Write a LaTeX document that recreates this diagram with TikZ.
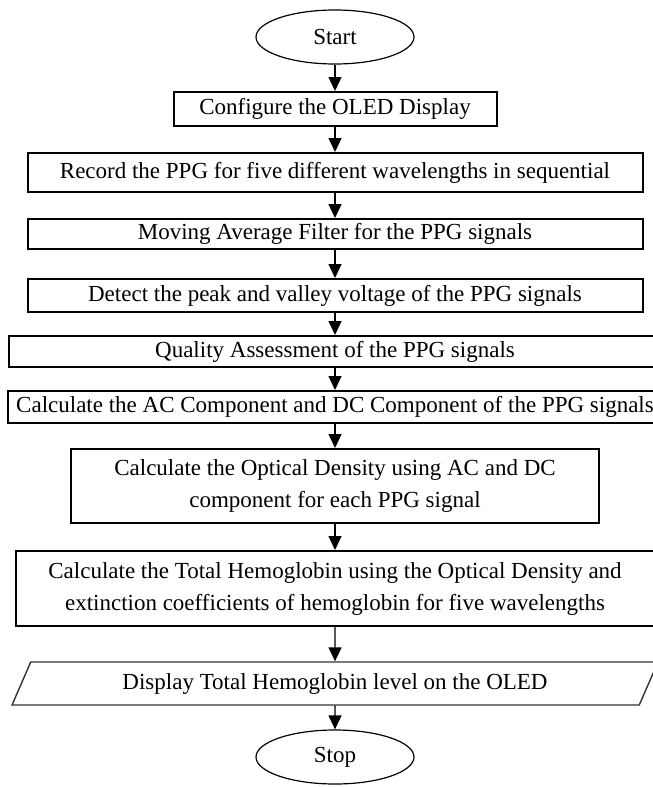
\documentclass[tikz,border=0pt]{standalone}
\usepackage{fontspec}
\setmainfont{Liberation Serif}
\usetikzlibrary{shapes.geometric,arrows.meta}

\begin{document}
\begin{tikzpicture}[
    x=0.5pt,
    y=-0.5pt,
    font=\fontsize{11.5}{16}\selectfont,
    box/.style={draw,line width=1pt,inner sep=0pt,align=center},
    term/.style={draw,ellipse,line width=0.6pt,inner sep=0pt,
      minimum width=79pt,minimum height=27pt},
    io/.style={draw=black!80,line width=0.7pt,trapezium,
      trapezium left angle=58,trapezium right angle=122,
      trapezium stretches,inner sep=0pt,
      minimum width=323.5pt,minimum height=21.5pt},
    flow/.style={line width=0.7pt,-{Triangle[length=7pt,width=6.5pt]}},
  ]
  \useasboundingbox (0,0) rectangle (653,787);

  \node[term] (start) at (335,37) {Start};
  \node[box,minimum width=161.5pt,minimum height=17pt] (config) at (335,109)
    {Configure the OLED Display};
  \node[box,minimum width=307.5pt,minimum height=19.5pt] (record) at (335,172.5)
    {Record the PPG for five different wavelengths in sequential};
  \node[box,minimum width=307.5pt,minimum height=15pt] (filter) at (335,234)
    {Moving Average Filter for the PPG signals};
  \node[box,minimum width=307.5pt,minimum height=16.5pt] (peak) at (335,295.5)
    {Detect the peak and valley voltage of the PPG signals};
  \node[box,minimum width=326.5pt,minimum height=15.5pt] (quality) at (335,351.5)
    {Quality Assessment of the PPG signals};
  \node[box,minimum width=327.5pt,minimum height=16pt] (acdc) at (335,407)
    {Calculate the AC Component and DC Component of the PPG signals};
  \node[box,minimum width=264pt,minimum height=37pt] (optical) at (335,486)
    {Calculate the Optical Density using AC and DC\\component for each PPG signal};
  \node[box,minimum width=319pt,minimum height=37.5pt] (hemo) at (335,588.5)
    {Calculate the Total Hemoglobin using the Optical Density and\\extinction coefficients of hemoglobin for five wavelengths};
  \node[io] (show) at (335,683.5) {Display Total Hemoglobin level on the OLED};
  \node[term] (stop) at (335,757) {Stop};

  \foreach \a/\b in {start/config,config/record,record/filter,filter/peak,
    peak/quality,quality/acdc,acdc/optical,optical/hemo,hemo/show,show/stop}
    \draw[flow] (\a) -- (\b);
\end{tikzpicture}
\end{document}
